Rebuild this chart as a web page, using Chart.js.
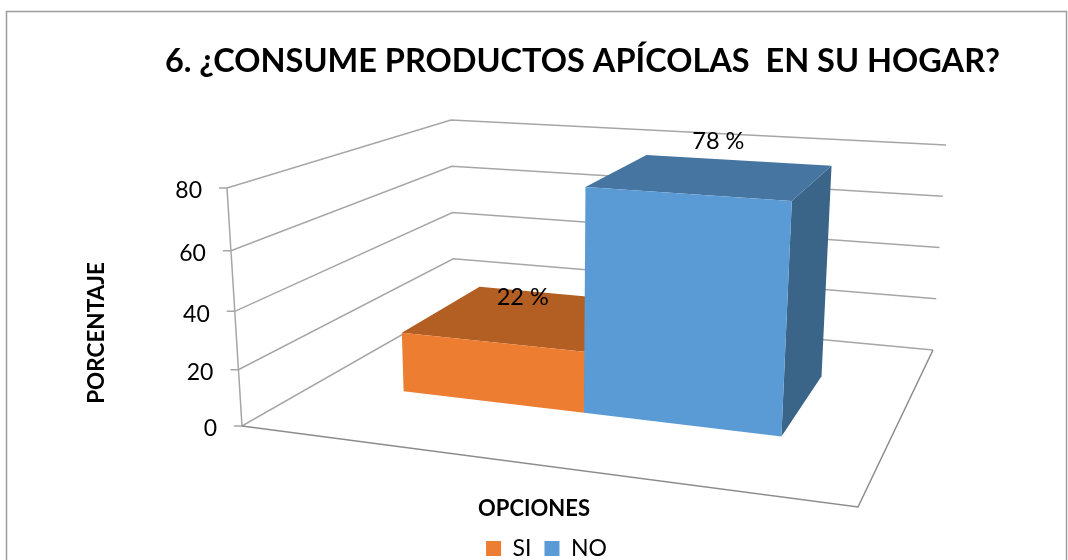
<!DOCTYPE html>
<html lang="es">
<head>
  <meta charset="UTF-8">
  <title>Productos apícolas</title>
  <style>
    body { margin: 0; background: #fff; }
    canvas { display: block; }
  </style>
</head>
<body>
  <canvas id="grafico" width="1068" height="560"></canvas>

  <script src="https://cdn.jsdelivr.net/npm/chart.js"></script>
  <script>
    const seriesNames = ['SI', 'NO'];
    const seriesValues = [22, 78];
    const dataLabels = ['22 %', '78 %'];
    const yTicks = [0, 20, 40, 60, 80];
    const frontColors = ['#ED7D31', '#5B9BD5'];
    const topColors = ['#B35E22', '#4575A0'];
    const sideColors = ['#A9561F', '#3A6488'];

    const fuente = 'Lato, "Open Sans", sans-serif';
    const colorLinea = '#A6A6A6';

    // esquinas de la caja 3D en pantalla (a=abajo, t=arriba, f=frente, b=fondo)
    const caja = {
      afi: [242, 426], afd: [858, 507], abi: [454, 305], abd: [933, 350],
      tfi: [227, 188], tfd: [875, 235], tbi: [451, 120], tbd: [946, 145]
    };
    const fondoBarra = [0.37, 0.77]; // profundidad de las barras
    const ajusteEtiqueta = [[-8, -17], [3, -33]];

    const mezcla = (p, q, t) => [p[0] + (q[0] - p[0]) * t, p[1] + (q[1] - p[1]) * t];
    const perspectiva = (t, k) => t * k / (1 + t * (k - 1));

    // u, v y d van de 0 a 1: ancho, alto y profundidad
    function proyectar(u, v, d) {
      const pu = perspectiva(u, 0.873);
      const pv = perspectiva(v, 0.93 + 0.07 * d * d);
      const abajo = mezcla(mezcla(caja.afi, caja.afd, pu), mezcla(caja.abi, caja.abd, pu), d);
      const arriba = mezcla(mezcla(caja.tfi, caja.tfd, pu), mezcla(caja.tbi, caja.tbd, pu), d);
      return mezcla(abajo, arriba, pv);
    }

    function cara(ctx, puntos, color) {
      ctx.beginPath();
      puntos.forEach((p, i) => i ? ctx.lineTo(p[0], p[1]) : ctx.moveTo(p[0], p[1]));
      ctx.closePath();
      ctx.fillStyle = color;
      ctx.fill();
    }

    function linea(ctx, puntos) {
      ctx.beginPath();
      puntos.forEach((p, i) => i ? ctx.lineTo(p[0], p[1]) : ctx.moveTo(p[0], p[1]));
      ctx.stroke();
    }

    const grafico3D = {
      id: 'grafico3D',
      beforeDraw(chart) {
        const ctx = chart.ctx;
        ctx.save();
        ctx.strokeStyle = '#9C9C9C';
        ctx.lineWidth = 1.5;
        ctx.strokeRect(6.5, 11.5, 1060, 570);
        ctx.restore();
      },
      beforeDatasetsDraw(chart) {
        const ctx = chart.ctx;
        const area = chart.chartArea;
        const y = chart.scales.y;
        const altura = px => (area.bottom - px) / area.height;
        ctx.save();

        // paredes, suelo y rotulos del eje
        ctx.strokeStyle = colorLinea;
        ctx.lineWidth = 1.5;
        y.ticks.forEach(t => {
          const v = altura(y.getPixelForValue(t.value));
          const p = proyectar(0, v, 0);
          linea(ctx, [[p[0] - 8, p[1]], p, proyectar(0, v, 1), proyectar(1, v, 1)]);
          ctx.fillStyle = '#000';
          ctx.font = '23px ' + fuente;
          ctx.textAlign = 'right';
          ctx.textBaseline = 'middle';
          ctx.fillText(t.label, p[0] - 25, p[1] + 3);
        });
        linea(ctx, [proyectar(0, 0, 0), proyectar(0, 1, 0)]);
        ctx.strokeStyle = '#8C8C8C';
        linea(ctx, [proyectar(0, 0, 0), proyectar(1, 0, 0), proyectar(1, 0, 1)]);

        // barras
        seriesValues.forEach((_, i) => {
          const barra = chart.getDatasetMeta(i).data[0];
          const u0 = (barra.x - barra.width / 2 - area.left) / area.width;
          const u1 = (barra.x + barra.width / 2 - area.left) / area.width;
          const v = altura(barra.y);
          const [d0, d1] = fondoBarra;
          cara(ctx, [proyectar(u1, 0, d0), proyectar(u1, 0, d1), proyectar(u1, v, d1), proyectar(u1, v, d0)], sideColors[i]);
          cara(ctx, [proyectar(u0, v, d0), proyectar(u1, v, d0), proyectar(u1, v, d1), proyectar(u0, v, d1)], topColors[i]);
          cara(ctx, [proyectar(u0, 0, d0), proyectar(u1, 0, d0), proyectar(u1, v, d0), proyectar(u0, v, d0)], frontColors[i]);
        });

        // etiquetas de datos
        seriesValues.forEach((_, i) => {
          const barra = chart.getDatasetMeta(i).data[0];
          const p = proyectar((barra.x - area.left) / area.width, altura(barra.y), 0.6);
          ctx.fillStyle = '#000';
          ctx.font = '23.5px ' + fuente;
          ctx.textAlign = 'center';
          ctx.textBaseline = 'middle';
          ctx.fillText(dataLabels[i], p[0] + ajusteEtiqueta[i][0], p[1] + ajusteEtiqueta[i][1]);
        });
        ctx.restore();
        return false; // las caras ya estan dibujadas
      }
    };

    new Chart(document.querySelector('#grafico'), {
      type: 'bar',
      data: {
        labels: [''],
        datasets: seriesNames.map((nombre, i) => ({
          label: nombre,
          data: [seriesValues[i]],
          backgroundColor: frontColors[i],
          borderWidth: 0
        }))
      },
      options: {
        responsive: false,
        animation: false,
        layout: { padding: { left: 93, right: 68, bottom: -10 } },
        datasets: { bar: { categoryPercentage: 0.67, barPercentage: 1 } },
        plugins: {
          tooltip: { enabled: false },
          title: {
            display: true,
            text: '6. ¿CONSUME PRODUCTOS APÍCOLAS  EN SU HOGAR?',
            align: 'end',
            color: '#000',
            font: { family: fuente, size: 32.5, weight: 'bold' },
            padding: { top: 42, bottom: 121 }
          },
          legend: {
            position: 'bottom',
            labels: {
              color: '#000',
              boxWidth: 15,
              boxHeight: 15,
              padding: 13,
              font: { family: fuente, size: 23 }
            }
          }
        },
        scales: {
          x: {
            grid: { display: false },
            border: { display: false },
            ticks: { display: false },
            title: {
              display: true,
              text: 'OPCIONES',
              color: '#000',
              font: { family: fuente, size: 22, weight: 'bold' },
              padding: { top: 0, bottom: 2 }
            },
            afterFit: s => { s.height = 60; }
          },
          y: {
            min: 0,
            max: 80,
            grid: { display: false },
            border: { display: false },
            ticks: { display: false, stepSize: 20, callback: v => yTicks.includes(v) ? String(v) : '' },
            title: {
              display: true,
              text: 'PORCENTAJE',
              color: '#000',
              font: { family: fuente, size: 22.5, weight: 'bold' },
              padding: { top: -10, bottom: 0 }
            },
            afterFit: s => { s.width = 123; }
          },
          hueco: {
            position: 'right',
            grid: { display: false },
            border: { display: false },
            ticks: { display: false },
            afterFit: s => { s.width = 148; }
          }
        }
      },
      plugins: [grafico3D]
    });
  </script>
</body>
</html>
